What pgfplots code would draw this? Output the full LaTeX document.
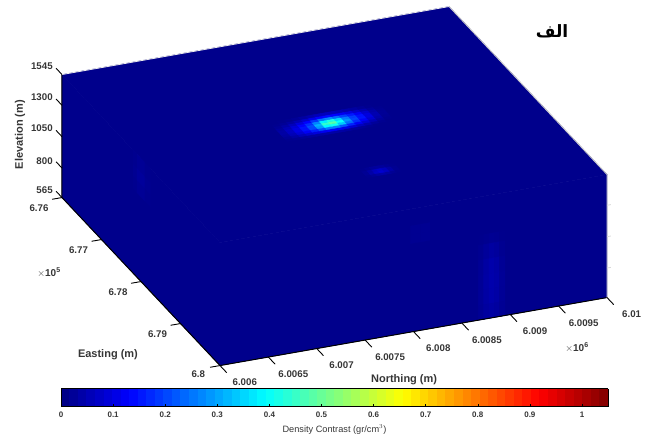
\documentclass[border=0pt]{standalone}
\usepackage{pgfplots}
\pgfplotsset{compat=1.18}
\usepackage{fontspec}
\setmainfont{Liberation Sans}
\newfontfamily\arabicfont[Script=Arabic]{DejaVu Sans}
\TeXXeTstate=1
\definecolor{lab}{HTML}{363636}
\pgfplotsset{den/.style={surf,shader=flat,point meta=explicit,forget plot}}
\begin{document}
\begin{tikzpicture}
\begin{axis}[
  x={(0.0395pt,-0.042pt)},y={(0.09675pt,0.017pt)},z={(0pt,0.1255pt)},
  xmin=676000,xmax=680000,ymin=6006000,ymax=6010000,zmin=565,zmax=1545,
  clip=false,
  colormap/jet,point meta min=0,point meta max=1.05,
  scaled ticks=false,
  xtick={676000,677000,678000,679000,680000},xticklabels={6.76,6.77,6.78,6.79,6.8},
  ytick={6006000,6006500,6007000,6007500,6008000,6008500,6009000,6009500,6010000},
  yticklabels={6.006,6.0065,6.007,6.0075,6.008,6.0085,6.009,6.0095,6.01},
  ztick={565,800,1050,1300,1545},
  tick align=outside,major tick length=9pt,
  tick pos=left,
  tick style={draw=none},
  axis line style={draw=none},
  ticklabel style={font=\fontsize{9.7}{11}\selectfont\bfseries,text=lab},
  x tick label style={xshift=-5pt,yshift=2pt},
  y tick label style={xshift=15pt,yshift=-1pt},
  z tick label style={yshift=5pt,xshift=3pt},
  /pgf/number format/assume math mode=true,
  /pgf/number format/set thousands separator={},
  xlabel={Easting (m)},ylabel={Northing (m)},zlabel={Elevation (m)},
  label style={font=\fontsize{11}{13}\selectfont\bfseries,text=lab},
  xlabel style={at={(axis cs:679373,6005098,565)},anchor=center,rotate=0,sloped like x axis=false},
  ylabel style={at={(axis cs:680922,6007454,565)},anchor=center,rotate=0,sloped like y axis=false,xshift=7pt},
  zlabel style={at={(axis cs:674886,6006000,686)},anchor=center,rotate=0,yshift=-2pt,xshift=1pt},
  colorbar horizontal,colorbar sampled,
  colorbar style={
    samples=65,
    at={(0.5,-0.0644)},anchor=north,
    width=547pt,height=18pt,
    xtick={0,0.1,0.2,0.3,0.4,0.5,0.6,0.7,0.8,0.9,1},
    xticklabels={0,0.1,0.2,0.3,0.4,0.5,0.6,0.7,0.8,0.9,1},
    xtick pos=bottom,
    tick align=inside,major tick length=3pt,
    tick style={draw=black,line width=0.5pt},
    axis line style={draw=black,line width=0.5pt},
    x tick label style={xshift=0pt,yshift=-2pt},
    ticklabel style={font=\fontsize{8}{9}\selectfont\bfseries,text=lab},
    xlabel={Density Contrast (gr/cm$^3$)},
    xlabel style={font=\fontsize{9.2}{11}\selectfont,text=lab},
  },
]
% top and east faces, one folded sheet
\addplot3[den] table[meta=c]{
x y z c
676000 6006000 1545 .012
676000 6010000 1545 .012

680000 6006000 1545 .012
680000 6010000 1545 .012

680000 6006000 565 .012
680000 6010000 565 .012
};
% north face
\addplot3[den] table[meta=c]{
x y z c
676000 6006000 565 .012
680000 6006000 565 .012

676000 6006000 1545 .012
680000 6006000 1545 .012
};
% main anomaly
\addplot3[den] table[meta=c,z expr=1545]{
x y c
677725 6007440 .012
677725 6007515 .012
677725 6007590 .013
677725 6007665 .014
677725 6007740 .016
677725 6007815 .02
677725 6007890 .028
677725 6007965 .034
677725 6008040 .034
677725 6008115 .03
677725 6008190 .026
677725 6008265 .022
677725 6008340 .018
677725 6008415 .014
677725 6008490 .012
677725 6008565 .012

677775 6007440 .012
677775 6007515 .014
677775 6007590 .018
677775 6007665 .026
677775 6007740 .04
677775 6007815 .06
677775 6007890 .08
677775 6007965 .095
677775 6008040 .095
677775 6008115 .085
677775 6008190 .07
677775 6008265 .055
677775 6008340 .04
677775 6008415 .022
677775 6008490 .014
677775 6008565 .012

677825 6007440 .014
677825 6007515 .022
677825 6007590 .036
677825 6007665 .058
677825 6007740 .085
677825 6007815 .125
677825 6007890 .165
677825 6007965 .19
677825 6008040 .19
677825 6008115 .17
677825 6008190 .15
677825 6008265 .12
677825 6008340 .085
677825 6008415 .05
677825 6008490 .022
677825 6008565 .013

677875 6007440 .018
677875 6007515 .035
677875 6007590 .06
677875 6007665 .095
677875 6007740 .14
677875 6007815 .185
677875 6007890 .27
677875 6007965 .37
677875 6008040 .35
677875 6008115 .26
677875 6008190 .2
677875 6008265 .16
677875 6008340 .115
677875 6008415 .065
677875 6008490 .03
677875 6008565 .014

677925 6007440 .024
677925 6007515 .05
677925 6007590 .08
677925 6007665 .12
677925 6007740 .165
677925 6007815 .23
677925 6007890 .38
677925 6007965 .5
677925 6008040 .47
677925 6008115 .34
677925 6008190 .235
677925 6008265 .18
677925 6008340 .13
677925 6008415 .075
677925 6008490 .034
677925 6008565 .015

677975 6007440 .026
677975 6007515 .055
677975 6007590 .085
677975 6007665 .13
677975 6007740 .18
677975 6007815 .25
677975 6007890 .39
677975 6007965 .5
677975 6008040 .45
677975 6008115 .33
677975 6008190 .23
677975 6008265 .17
677975 6008340 .12
677975 6008415 .065
677975 6008490 .03
677975 6008565 .014

678025 6007440 .024
678025 6007515 .05
678025 6007590 .08
678025 6007665 .115
678025 6007740 .16
678025 6007815 .215
678025 6007890 .3
678025 6007965 .36
678025 6008040 .32
678025 6008115 .24
678025 6008190 .175
678025 6008265 .13
678025 6008340 .09
678025 6008415 .05
678025 6008490 .022
678025 6008565 .013

678075 6007440 .018
678075 6007515 .035
678075 6007590 .06
678075 6007665 .09
678075 6007740 .12
678075 6007815 .15
678075 6007890 .175
678075 6007965 .185
678075 6008040 .175
678075 6008115 .145
678075 6008190 .105
678075 6008265 .075
678075 6008340 .048
678075 6008415 .026
678075 6008490 .014
678075 6008565 .012

678125 6007440 .014
678125 6007515 .022
678125 6007590 .032
678125 6007665 .042
678125 6007740 .052
678125 6007815 .062
678125 6007890 .068
678125 6007965 .068
678125 6008040 .062
678125 6008115 .052
678125 6008190 .042
678125 6008265 .03
678125 6008340 .02
678125 6008415 .014
678125 6008490 .012
678125 6008565 .012

678175 6007440 .012
678175 6007515 .012
678175 6007590 .012
678175 6007665 .012
678175 6007740 .012
678175 6007815 .012
678175 6007890 .012
678175 6007965 .012
678175 6008040 .012
678175 6008115 .012
678175 6008190 .012
678175 6008265 .012
678175 6008340 .012
678175 6008415 .012
678175 6008490 .012
678175 6008565 .012
};
% second anomaly
\addplot3[den] table[meta=c,z expr=1545]{
x y c
679000 6007850 .012
679000 6007900 .012
679000 6007950 .012
679000 6008000 .013
679000 6008050 .013
679000 6008100 .012
679000 6008150 .012
679000 6008200 .012

679050 6007850 .012
679050 6007900 .02
679050 6007950 .035
679050 6008000 .05
679050 6008050 .05
679050 6008100 .035
679050 6008150 .02
679050 6008200 .012

679100 6007850 .014
679100 6007900 .035
679100 6007950 .065
679100 6008000 .1
679100 6008050 .1
679100 6008100 .065
679100 6008150 .03
679100 6008200 .014

679150 6007850 .012
679150 6007900 .025
679150 6007950 .045
679150 6008000 .065
679150 6008050 .065
679150 6008100 .04
679150 6008150 .02
679150 6008200 .012

679200 6007850 .012
679200 6007900 .012
679200 6007950 .012
679200 6008000 .013
679200 6008050 .013
679200 6008100 .012
679200 6008150 .012
679200 6008200 .012
};
% band on the east face
\addplot3[den] table[meta=c]{
x y z c
680000 6008670 565 .016
680000 6008725 565 .026
680000 6008780 565 .032
680000 6008835 565 .032
680000 6008890 565 .024
680000 6008945 565 .015

680000 6008670 680 .016
680000 6008725 680 .03
680000 6008780 680 .04
680000 6008835 680 .044
680000 6008890 680 .03
680000 6008945 680 .015

680000 6008670 800 .016
680000 6008725 800 .032
680000 6008780 800 .044
680000 6008835 800 .048
680000 6008890 800 .033
680000 6008945 800 .015

680000 6008670 920 .015
680000 6008725 920 .03
680000 6008780 920 .044
680000 6008835 920 .048
680000 6008890 920 .033
680000 6008945 920 .014

680000 6008670 1040 .014
680000 6008725 1040 .026
680000 6008780 1040 .04
680000 6008835 1040 .044
680000 6008890 1040 .028
680000 6008945 1040 .013

680000 6008670 1160 .013
680000 6008725 1160 .018
680000 6008780 1160 .025
680000 6008835 1160 .027
680000 6008890 1160 .018
680000 6008945 1160 .013

680000 6008670 1240 .012
680000 6008725 1240 .012
680000 6008780 1240 .013
680000 6008835 1240 .013
680000 6008890 1240 .012
680000 6008945 1240 .012
};
% faint spot on the east face
\addplot3[den] table[meta=c]{
x y z c
680000 6007970 1270 .012
680000 6008070 1270 .016
680000 6008170 1270 .012

680000 6007970 1340 .015
680000 6008070 1340 .032
680000 6008170 1340 .015

680000 6007970 1410 .012
680000 6008070 1410 .016
680000 6008170 1410 .012
};
% band on the north face
\addplot3[den] table[meta=c]{
x y z c
677800 6006000 1240 .012
677900 6006000 1240 .014
678000 6006000 1240 .016
678100 6006000 1240 .014
678230 6006000 1240 .012

677800 6006000 1340 .014
677900 6006000 1340 .024
678000 6006000 1340 .032
678100 6006000 1340 .024
678230 6006000 1340 .013

677800 6006000 1440 .014
677900 6006000 1440 .024
678000 6006000 1440 .032
678100 6006000 1440 .024
678230 6006000 1440 .013

677800 6006000 1545 .012
677900 6006000 1545 .014
678000 6006000 1545 .016
678100 6006000 1545 .014
678230 6006000 1545 .012
};
% box edges
\addplot3[black,line width=1pt,forget plot] coordinates {(676000,6006000,1545) (676000,6006000,565) (680000,6006000,565) (680000,6010000,565)};
\addplot3[black!20,line width=0.9pt,forget plot] coordinates {(680000,6010000,565) (680000,6010000,1545) (676000,6010000,1545)};
\addplot3[black!8,line width=0.8pt,forget plot] coordinates {(676000,6010000,1545) (676000,6006000,1545)};
% tick marks: Elevation, Easting, Northing
\addplot3[black,line width=0.9pt,forget plot,empty line=jump] table{
676000 6006000 565
675850 6006000 565

676000 6006000 800
675850 6006000 800

676000 6006000 1050
675850 6006000 1050

676000 6006000 1300
675850 6006000 1300

676000 6006000 1545
675850 6006000 1545

676000 6006000 565
676000 6005897 565

677000 6006000 565
677000 6005897 565

678000 6006000 565
678000 6005897 565

679000 6006000 565
679000 6005897 565

680000 6006000 565
680000 6005897 565

680000 6006000 565
680170 6006000 565

680000 6006500 565
680170 6006500 565

680000 6007000 565
680170 6007000 565

680000 6007500 565
680170 6007500 565

680000 6008000 565
680170 6008000 565

680000 6008500 565
680170 6008500 565

680000 6009000 565
680170 6009000 565

680000 6009500 565
680170 6009500 565

680000 6010000 565
680170 6010000 565
};
% faint ticks on the far vertical edge
\addplot3[black!15,line width=0.8pt,forget plot,empty line=jump] table{
680000 6010000 800
680000 6010040 800

680000 6010000 1050
680000 6010040 1050

680000 6010000 1300
680000 6010040 1300
};
\coordinate (O) at (axis cs:680000,6006000,565);
\end{axis}
\begin{scope}[shift={(O)},x=1pt,y=-1pt,shift={(-220,-365)}]
  \path[use as bounding box] (0,0) rectangle (648,437);
  \node[font=\fontsize{10}{11}\selectfont\bfseries,text=lab] at (49,272) {$\times$10\textsuperscript{5}};
  \node[font=\fontsize{10}{11}\selectfont\bfseries,text=lab] at (577,347) {$\times$10\textsuperscript{6}};
  \node[font=\fontsize{17}{18}\selectfont\arabicfont\bfseries] at (552,31) {\beginR الف\endR};
\end{scope}
\end{tikzpicture}
\end{document}
